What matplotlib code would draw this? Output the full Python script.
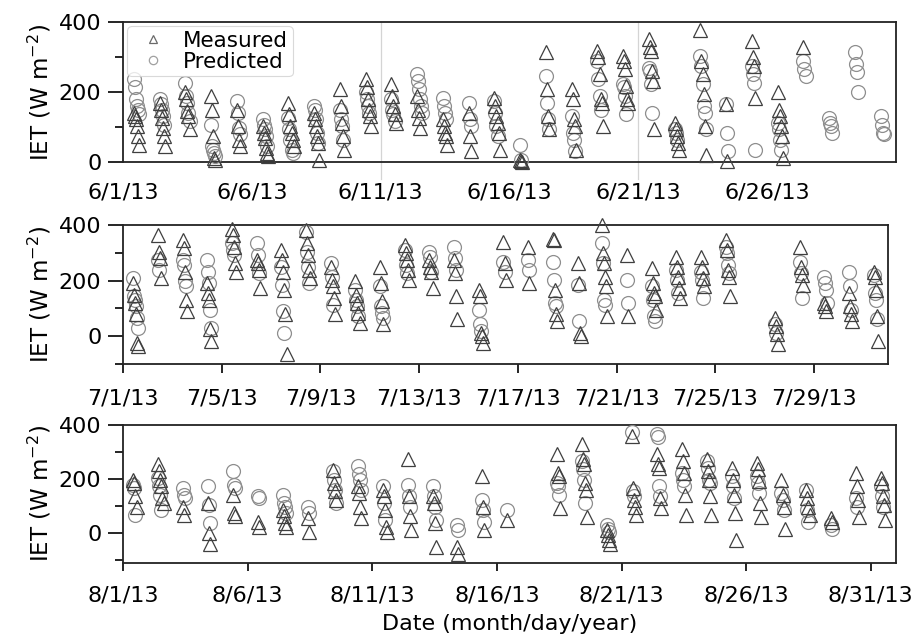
import datetime as dt
import matplotlib
matplotlib.use("Agg")
import matplotlib.pyplot as plt
import matplotlib.dates as mdates
from matplotlib.ticker import FixedLocator, NullFormatter
from matplotlib.lines import Line2D

plt.rcParams['font.family'] = ['DejaVu Sans']
plt.rcParams['mathtext.default'] = 'regular'

# Sampling hours for each day's observations (local time)
OBS_HOURS = [10, 11, 12, 13, 14, 15, 16]

# ---- June 2013 (IET, W m-2) ----
JUNE_DAYS = list(range(1, 31))
JUNE_MEASURED = [
    [141, 131, 122, 103, 74, 50], [170, 150, 127, 98, 74, 45], [199, 179, 146, 131, 93],
    [189, 150, 74, 12, 7], [150, 103, 64, 45], [103, 84, 69, 40, 26, 16],
    [170, 136, 103, 84, 64, 45], [141, 122, 103, 74, 55, 5], [208, 160, 112, 74, 35],
    [237, 213, 179, 150, 131, 103], [223, 189, 160, 136, 112], [189, 150, 127, 98],
    [122, 103, 83, 74, 50], [141, 74, 31], [184, 160, 131, 112, 83, 35],
    [7, 2, 0], [314, 208, 131, 93], [208, 179, 122, 103, 35],
    [318, 299, 251, 179, 170, 103], [304, 290, 266, 218, 179, 170], [352, 328, 318, 261, 232, 93],
    [112, 93, 74, 55, 35], [376, 290, 251, 194, 103, 21], [165, 2],
    [347, 299, 275, 184], [199, 150, 131, 103, 74, 12], [328],
    [], [], [],
]
JUNE_PREDICTED = [
    [237, 213, 179, 160, 150, 136], [179, 165, 150, 131, 107], [227, 189, 170, 141, 117],
    [107, 45, 35, 26, 16], [175, 141, 98, 79], [122, 107, 93, 74, 45],
    [127, 93, 64, 35, 26], [160, 150, 122, 84, 55], [150, 122, 103, 64],
    [199, 179, 160, 141], [179, 150, 136, 117], [251, 232, 208, 179, 160, 141],
    [184, 160, 141, 122], [170, 122, 103], [175, 141, 103, 74],
    [50, 7], [247, 170, 122, 93], [131, 83, 64, 31],
    [290, 237, 189, 150], [223, 213, 189, 136], [270, 261, 223, 141],
    [93, 83, 64], [304, 275, 223, 160, 141, 93], [165, 83, 31],
    [275, 251, 227, 35], [112, 93, 64, 35], [290, 266, 247],
    [127, 112, 103, 83], [314, 280, 256, 199], [131, 107, 83, 79],
]

# ---- July 2013 ----
JULY_DAYS = list(range(1, 32))
JULY_MEASURED = [
    [192, 150, 120, 79, -23, -35], [364, 305, 281, 210], [346, 317, 233, 132, 90],
    [192, 156, 132, 25, -17], [388, 364, 323, 263, 233], [275, 263, 239, 174],
    [311, 275, 233, 168, 79, -64], [382, 335, 293, 239, 210], [251, 204, 180, 138, 79],
    [198, 150, 120, 85, 49], [251, 192, 126, 43], [329, 299, 275, 239, 204],
    [275, 251, 233, 174], [275, 227, 144, 61], [168, 144, 13, 1, -23],
    [340, 263, 204], [323, 192], [352, 346, 168, 79, 55],
    [263, 192, 13, 1], [400, 299, 263, 215, 180, 73], [293, 73],
    [245, 192, 156, 144, 96], [287, 251, 215, 174, 138], [287, 251, 210, 180],
    [346, 311, 239, 215, 144], [], [67, 37, 7, -29],
    [323, 251, 221, 186], [120, 108, 90], [156, 108, 79, 55],
    [233, 215, 168, 73, -17],
]
JULY_PREDICTED = [
    [210, 144, 132, 108, 67, 31], [275, 239], [275, 257, 198, 180],
    [275, 233, 192, 96, 31], [335, 311, 293], [335, 293, 227],
    [251, 186, 90, 13], [376, 305, 251, 192], [263, 215, 114],
    [168, 132, 108, 73], [180, 108, 85, 67], [311, 257, 227],
    [305, 287, 233], [323, 281, 239], [96, 43, 19],
    [269, 233], [275, 239], [269, 204, 120, 108],
    [186, 55], [335, 263, 132, 114], [204, 120],
    [180, 132, 73, 55], [239, 204, 156], [233, 204, 138],
    [323, 299, 257, 227], [], [43, 13],
    [269, 227, 138], [215, 192, 168, 120], [233, 180, 96],
    [221, 156, 132, 61],
]

# ---- August 2013 ----
AUG_DAYS = list(range(1, 32))
AUG_MEASURED = [
    [198, 186, 136, 98], [254, 229, 198, 173, 130, 111], [98, 67],
    [111, -1, -39], [142, 74, 62], [42, 24],
    [86, 62, 36, 24], [55, 5], [235, 186, 155, 123],
    [173, 148, 98, 55], [161, 136, 86, 24, 5], [273, 136, 62, 11],
    [136, 111, 36, -51], [-51, -76], [211, 98, 11],
    [49], [], [292, 223, 211, 92],
    [329, 273, 254, 186, 161, 61], [11, -7, -26, -39], [360, 167, 123, 98, 67],
    [292, 254, 242, 130, 92], [310, 267, 223, 142, 67], [273, 229, 198, 136, 67],
    [242, 198, 142, 74, -26], [260, 236, 192, 111, 61], [198, 142, 98, 17],
    [161, 130, 98, 67], [55, 42], [223, 173, 123, 61],
    [204, 186, 136, 105, 49],
]
AUG_PREDICTED = [
    [179, 167, 67], [204, 173, 142, 86], [167, 142, 130],
    [173, 105, 36], [229, 179, 167], [136, 130],
    [142, 111, 98, 74], [98, 74], [229, 198, 161, 111],
    [248, 217, 198, 161], [173, 111, 49], [179, 136, 98],
    [173, 136, 98, 49], [30, 11], [123, 86, 42],
    [86], [], [186, 173, 142],
    [267, 236, 198, 111], [30, 17, 5], [373, 155, 136],
    [366, 354, 173, 136], [223, 198, 173], [267, 242, 198, 186],
    [211, 173, 130], [211, 186, 148], [148, 123, 86],
    [161, 86, 42], [30, 17], [130, 98],
    [173, 136, 98],
]

MEAS_COLOR = '#3f3f3f'
PRED_COLOR = '#8e8e8e'
FS = 16


def expand(month, days, values):
    xs, ys = [], []
    for day, vals in zip(days, values):
        for hour, v in zip(OBS_HOURS, vals):
            xs.append(mdates.date2num(dt.datetime(2013, month, day, hour)))
            ys.append(v)
    return xs, ys


def draw(ax, month, days, meas, pred):
    px, py = expand(month, days, pred)
    mx, my = expand(month, days, meas)
    ax.plot(px, py, linestyle='none', marker='o', ms=10, mfc='none',
            mec=PRED_COLOR, mew=0.9, clip_on=False, zorder=3)
    ax.plot(mx, my, linestyle='none', marker='^', ms=10.5, mfc='none',
            mec=MEAS_COLOR, mew=0.9, clip_on=False, zorder=4)


def style_y(ax, ymin, minors):
    ax.set_ylim(ymin, 400)
    ax.yaxis.set_major_locator(FixedLocator([0, 200, 400]))
    ax.yaxis.set_minor_locator(FixedLocator(minors))
    ax.tick_params(axis='y', which='major', direction='out', length=10.5,
                   width=1.2, labelsize=FS, pad=5)
    ax.tick_params(axis='y', which='minor', direction='out', length=6, width=1.2)
    ax.set_ylabel('IET (W m$^{-2}$)', fontsize=FS + 0.5, labelpad=4)
    for s in ax.spines.values():
        s.set_linewidth(1.3)
        s.set_color('#222222')


fig = plt.figure(figsize=(9.14, 6.38), dpi=100)
ax1 = fig.add_axes([0.1346, 0.746, 0.8454, 0.2195])
ax2 = fig.add_axes([0.1346, 0.4295, 0.8370, 0.2175])
ax3 = fig.add_axes([0.1346, 0.1176, 0.8454, 0.2163])

# June panel
draw(ax1, 6, JUNE_DAYS, JUNE_MEASURED, JUNE_PREDICTED)
style_y(ax1, 0, [100, 300])
ax1.set_xlim(mdates.date2num(dt.datetime(2013, 6, 1)), mdates.date2num(dt.datetime(2013, 7, 1)))
ax1.xaxis.set_major_locator(FixedLocator([mdates.date2num(dt.datetime(2013, 6, d)) for d in (1, 6, 11, 16, 21, 26)]))
ax1.xaxis.set_minor_locator(FixedLocator([mdates.date2num(dt.datetime(2013, 6, d)) for d in (6, 16, 26)]))
ax1.xaxis.set_major_formatter(mdates.DateFormatter('%-m/%-d/%y'))
ax1.xaxis.set_minor_formatter(NullFormatter())
ax1.tick_params(axis='x', which='major', length=0, labelsize=FS, pad=15)
ax1.tick_params(axis='x', which='minor', direction='inout', length=12, width=1.2)
for d in (11, 21):
    ax1.axvline(mdates.date2num(dt.datetime(2013, 6, d)), ymin=-0.12, ymax=1,
                color='#d4d4d4', lw=0.9, clip_on=False, zorder=1)

handles = [
    Line2D([], [], linestyle='none', marker='^', ms=6, mfc='none', mec='#6a6a6a', mew=0.9),
    Line2D([], [], linestyle='none', marker='o', ms=6, mfc='none', mec='#a0a0a0', mew=0.9),
]
leg = ax1.legend(handles, ['Measured', 'Predicted'], loc='upper left', fontsize=15.5,
                 frameon=True, fancybox=True, borderaxespad=0.2, handletextpad=0.4,
                 borderpad=0.2, labelspacing=0.05, handlelength=2.0)
leg.get_frame().set_edgecolor('#d0d0d0')
leg.get_frame().set_linewidth(0.8)

# July panel
draw(ax2, 7, JULY_DAYS, JULY_MEASURED, JULY_PREDICTED)
style_y(ax2, -100, [-100, 100, 300])
ax2.set_xlim(mdates.date2num(dt.datetime(2013, 7, 1)), mdates.date2num(dt.datetime(2013, 8, 1)))
ax2.xaxis.set_major_locator(FixedLocator([mdates.date2num(dt.datetime(2013, 7, d)) for d in (1, 5, 9, 13, 17, 21, 25, 29)]))
ax2.xaxis.set_major_formatter(mdates.DateFormatter('%-m/%-d/%y'))
ax2.tick_params(axis='x', which='major', direction='out', length=6.5, width=1.2,
                labelsize=FS, pad=11)

# August panel
draw(ax3, 8, AUG_DAYS, AUG_MEASURED, AUG_PREDICTED)
style_y(ax3, -110, [-100, 100, 300])
ax3.set_xlim(mdates.date2num(dt.datetime(2013, 8, 1)), mdates.date2num(dt.datetime(2013, 9, 1)))
ax3.xaxis.set_major_locator(FixedLocator([mdates.date2num(dt.datetime(2013, 8, d)) for d in (1, 6, 11, 16, 21, 26, 31)]))
ax3.xaxis.set_minor_locator(FixedLocator([mdates.date2num(dt.datetime(2013, 8, d)) for d in (1, 11, 21, 31)]))
ax3.xaxis.set_major_formatter(mdates.DateFormatter('%-m/%-d/%y'))
ax3.xaxis.set_minor_formatter(NullFormatter())
ax3.tick_params(axis='x', which='major', direction='out', length=6, width=1.2,
                labelsize=FS, pad=10)
ax3.tick_params(axis='x', which='minor', direction='in', length=6, width=1.2)
ax3.set_xlabel('Date (month/day/year)', fontsize=FS, labelpad=6)

fig.savefig('out.png', dpi=100, facecolor='white')
